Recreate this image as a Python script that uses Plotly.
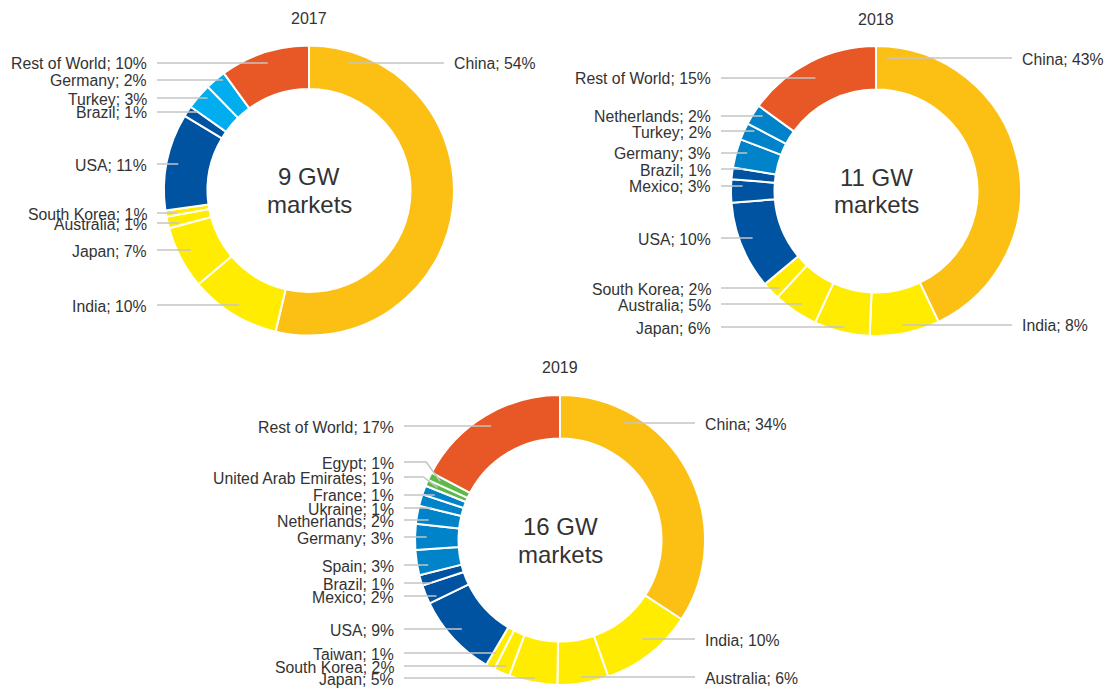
import math
import plotly.graph_objects as go

W, H = 1104, 688

# ---------------- data ----------------
years = ["2017", "2018", "2019"]
totals = ["9 GW", "11 GW", "16 GW"]

names_2017 = ["China", "India", "Japan", "Australia", "South Korea", "USA",
              "Brazil", "Turkey", "Germany", "Rest of World"]
share_2017 = [53.7, 10.1, 7.0, 1.3, 0.7, 10.8, 1.2, 2.9, 2.3, 10.0]

names_2018 = ["China", "India", "Japan", "Australia", "South Korea", "USA",
              "Mexico", "Brazil", "Germany", "Turkey", "Netherlands", "Rest of World"]
share_2018 = [42.9, 7.8, 6.2, 5.0, 2.0, 9.8, 2.6, 1.3, 3.2, 1.9, 2.3, 15.0]

names_2019 = ["China", "India", "Australia", "Japan", "South Korea", "Taiwan", "USA",
              "Mexico", "Brazil", "Spain", "Germany", "Netherlands", "Ukraine",
              "France", "United Arab Emirates", "Egypt", "Rest of World"]
share_2019 = [34.2, 10.4, 5.7, 5.4, 1.8, 1.0, 9.3, 2.1, 1.2, 2.8, 2.9, 2.0, 1.3,
              1.0, 0.7, 0.9, 17.3]

# ---------------- styles / layout ----------------
ORANGE = "#FCC014"
YELLOW = "#FFEC00"
DBLUE = "#0053A1"
LBLUE = "#00ADEE"
MBLUE = "#0083C8"
GREEN = "#5DBA47"
RED = "#E85826"

colors_2017 = [ORANGE, YELLOW, YELLOW, YELLOW, YELLOW, DBLUE, DBLUE, LBLUE, LBLUE, RED]
colors_2018 = [ORANGE, YELLOW, YELLOW, YELLOW, YELLOW, DBLUE, DBLUE, DBLUE,
               MBLUE, MBLUE, MBLUE, RED]
colors_2019 = [ORANGE, YELLOW, YELLOW, YELLOW, YELLOW, YELLOW, DBLUE, DBLUE, DBLUE,
               MBLUE, MBLUE, MBLUE, MBLUE, MBLUE, GREEN, GREEN, RED]

# label line heights (pixels from top) for each slice
label_y_2017 = [63, 305, 250, 223, 213, 164, 112, 98, 80, 63]
label_y_2018 = [58, 325, 327, 304, 288, 238, 186, 169, 153, 131, 116, 78]
label_y_2019 = [423, 639, 677, 678, 666, 653, 629, 596, 583, 565, 537, 520, 508,
                495, 477, 462, 426]

charts = [
    dict(names=names_2017, vals=share_2017, colors=colors_2017, ly=label_y_2017,
         cx=309, cy=190.5, left_edge=149, right_edge=452),
    dict(names=names_2018, vals=share_2018, colors=colors_2018, ly=label_y_2018,
         cx=876, cy=191, left_edge=713, right_edge=1020),
    dict(names=names_2019, vals=share_2019, colors=colors_2019, ly=label_y_2019,
         cx=560, cy=540, left_edge=396, right_edge=703),
]
R = 145
HOLE = 0.70
FONT = "Liberation Sans, Arial, sans-serif"
TXT = "#333333"
LINE = "#C4C4C4"
LABEL_SIZE = 15.8


def px(x):
    return x / W


def py(y):
    return 1 - y / H


def polar(cx, cy, r, ang):
    a = math.radians(ang)
    return cx + r * math.sin(a), cy - r * math.cos(a)


def ang_of(cx, cy, x, y):
    return math.degrees(math.atan2(x - cx, -(y - cy))) % 360


fig = go.Figure()
shapes = []
annotations = []

for k, c in enumerate(charts):
    cx, cy = c["cx"], c["cy"]
    fig.add_trace(go.Pie(
        labels=c["names"], values=c["vals"], sort=False, direction="clockwise",
        rotation=0, hole=HOLE, textinfo="none", showlegend=False,
        marker=dict(colors=c["colors"], line=dict(color="white", width=2)),
        domain=dict(x=[px(cx - R), px(cx + R)], y=[py(cy + R), py(cy - R)]),
        hovertemplate="%{label}: %{percent}<extra></extra>",
    ))
    # title
    annotations.append(dict(x=px(cx), y=py(cy - R - 27), xref="paper", yref="paper",
                            text=years[k], showarrow=False, xanchor="center",
                            yanchor="middle", font=dict(size=16, color=TXT, family=FONT)))
    # centre text
    annotations.append(dict(x=px(cx), y=py(cy - 14), xref="paper", yref="paper",
                            text=totals[k], showarrow=False, xanchor="center",
                            yanchor="middle", font=dict(size=24, color=TXT, family=FONT)))
    annotations.append(dict(x=px(cx), y=py(cy + 14), xref="paper", yref="paper",
                            text="markets", showarrow=False, xanchor="center",
                            yanchor="middle", font=dict(size=24, color=TXT, family=FONT)))

    total = sum(c["vals"])
    start = 0.0
    ra = 0.92 * R
    for i, (name, v) in enumerate(zip(c["names"], c["vals"])):
        a0 = start
        a1 = start + v / total * 360
        start = a1
        mid = (a0 + a1) / 2
        right = mid < 180
        ly = c["ly"][i]
        pct = round(v / total * 100)
        label = f"{name}; {pct}%"
        if right:
            tx = c["right_edge"]
            xline = tx - 8
            anchor = "left"
        else:
            tx = c["left_edge"]
            xline = tx + 8
            anchor = "right"
        annotations.append(dict(x=px(tx), y=py(ly + 1), xref="paper", yref="paper",
                                text=label, showarrow=False, xanchor=anchor,
                                yanchor="middle",
                                font=dict(size=LABEL_SIZE, color=TXT, family=FONT)))

        def inside(x, y):
            a = ang_of(cx, cy, x, y)
            rr = math.hypot(x - cx, y - cy)
            return (a0 - 1.5 <= a <= a1 + 1.5) and (HOLE * R < rr < R)

        ax_, ay_ = polar(cx, cy, ra, mid)
        pts = None
        if inside(ax_, ly):
            pts = [(xline, ly), (ax_, ly)]
        else:
            dy = ly - cy
            if abs(dy) < ra:
                dx = math.sqrt(ra ** 2 - dy ** 2) * (1 if right else -1)
                if inside(cx + dx, ly):
                    pts = [(xline, ly), (cx + dx, ly)]
            if pts is None:
                knee = ax_ + (14 if right else -14)
                pts = [(xline, ly), (knee, ly), (ax_, ay_)]
        path = "M " + " L ".join(f"{px(x):.5f},{py(y):.5f}" for x, y in pts)
        shapes.append(dict(type="path", path=path, xref="paper", yref="paper",
                           line=dict(color=LINE, width=1.5), layer="above"))

fig.update_layout(
    width=W, height=H, margin=dict(l=0, r=0, t=0, b=0),
    paper_bgcolor="white", plot_bgcolor="white",
    shapes=shapes, annotations=annotations,
    font=dict(family=FONT, color=TXT),
)

fig.write_html("out.html",
               config={"displayModeBar": False},
               post_script="document.body.style.margin='0';"
                           "document.body.style.overflow='hidden';")
